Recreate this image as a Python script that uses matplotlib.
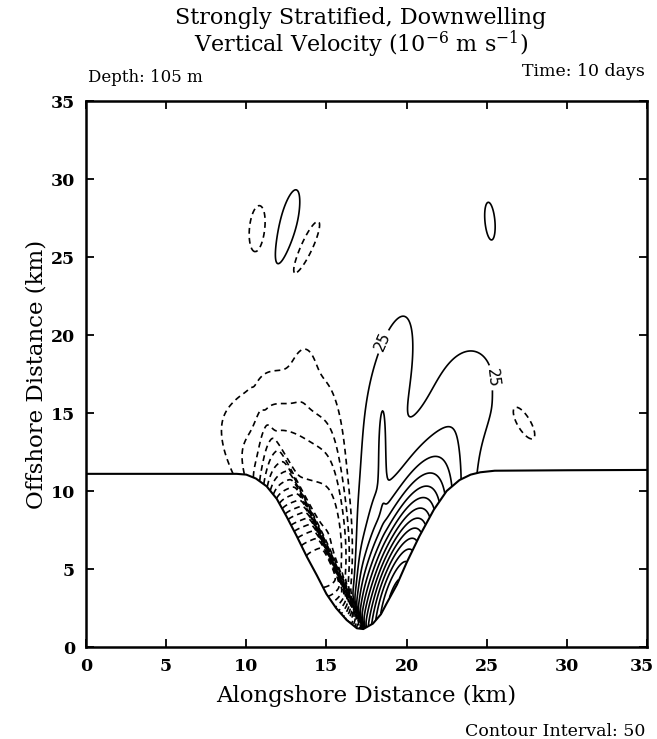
import numpy as np
import matplotlib
matplotlib.use("Agg")
import matplotlib.pyplot as plt
from matplotlib.transforms import ScaledTranslation

# ---------------- data ----------------
# canyon wall where the bottom is at 105 m depth (km)
wall_x = [0.0, 5.0, 9.4, 10.0, 10.6, 11.27, 11.9, 12.52, 13.15, 13.77, 14.4, 15.0,
          15.6, 16.26, 16.9, 17.3, 17.9, 18.4, 18.76, 19.4, 20.0, 20.8, 21.7,
          22.5, 23.3, 24.0, 24.6, 25.5, 30.0, 35.0]
wall_y = [11.1, 11.1, 11.1, 11.05, 10.8, 10.3, 9.5, 8.35, 7.1, 5.8, 4.6, 3.4,
          2.5, 1.73, 1.2, 1.15, 1.5, 2.1, 2.8, 4.0, 5.4, 7.1, 8.8,
          10.0, 10.7, 11.05, 11.2, 11.3, 11.33, 11.35]

# vertical-velocity field (10^-6 m/s) described as a set of generalised-gaussian features
#             N_mid  N_top  N_bump P_main P_tongue P_lobe P_spike P_axis  small cells ...
comp_x     = [14.0,  11.8,  13.6,  19.3,  18.95,  23.8,  18.5,   18.0,   10.7, 12.55, 13.65, 25.2, 27.25]
comp_y     = [6.5,   13.5,  17.6,  3.0,   16.9,   16.3,  12.0,   10.0,   26.8, 26.85, 25.5, 27.3, 14.45]
comp_amp   = [-230,  -60,   -30,   650,   48,     40,    50,     40,     -40, 40, -40, 40, -40]
comp_len   = [4.8,   2.3,   1.3,   5.2,   3.8,    2.4,   2.0,    4.0,    1.55, 2.6, 2.05, 1.25, 1.32]
comp_wid   = [2.2,   2.2,   0.5,   1.4,   0.95,   1.45,  0.15,   0.7,    0.52, 0.58, 0.43, 0.32, 0.45]
comp_angle = [95,    100,   88,    74,    78,     80,    90,     85,     85, 77, 64.7, 95, -59.4]
comp_plen  = [2,     2,     2,     2,     2,      2,     2,      2,      2, 2, 2, 2, 2]
comp_pwid  = [6,     2,     2,     2,     2,      2,     2,      2,      2, 2, 2, 2, 2]

# sharp front of strong downwelling along the western canyon wall
front_x     = [15.5]
front_y     = [5.0]
front_amp   = [-700]
front_len   = [4.0]
front_width = [0.13]
front_angle = [-65.8]
front_shift = [0.1]    # offset of the front line from the reference point (km)
front_back  = [2.6]    # extent of the strong band behind the front (km)

contour_interval = 50
label_points = [(18.9, 19.4), (24.6, 17.2)]

x_ticks = [0, 5, 10, 15, 20, 25, 30, 35]
y_ticks = [0, 5, 10, 15, 20, 25, 30, 35]

# ---------------- build field ----------------
gx = np.linspace(0, 35, 701)
gy = np.linspace(0, 35, 701)
X, Y = np.meshgrid(gx, gy)
W = np.zeros_like(X)
for cx, cy, amp, a, b, ang, pu, pv in zip(comp_x, comp_y, comp_amp, comp_len,
                                          comp_wid, comp_angle, comp_plen, comp_pwid):
    t = np.deg2rad(ang)
    u = (X - cx) * np.cos(t) + (Y - cy) * np.sin(t)
    v = -(X - cx) * np.sin(t) + (Y - cy) * np.cos(t)
    W += amp * np.exp(-0.5 * (np.abs(u / a) ** pu + np.abs(v / b) ** pv))
for cx, cy, amp, a, w, ang, sh, bk in zip(front_x, front_y, front_amp, front_len,
                                          front_width, front_angle, front_shift, front_back):
    t = np.deg2rad(ang)
    u = (X - cx) * np.cos(t) + (Y - cy) * np.sin(t)
    v = -(X - cx) * np.sin(t) + (Y - cy) * np.cos(t) - sh
    across = 0.5 * (1 - np.tanh(v / w)) * np.exp(-0.5 * (np.abs(np.minimum(v, 0)) / bk) ** 6)
    W += amp * np.exp(-0.5 * (u / a) ** 2) * across
wall_on_grid = np.interp(gx, wall_x, wall_y)
W = np.ma.masked_where(Y < wall_on_grid[None, :], W)

pos_levels = np.arange(contour_interval / 2, 1500, contour_interval)
neg_levels = -pos_levels[::-1]

# ---------------- figure ----------------
plt.rcParams['font.family'] = 'DejaVu Serif'
fig = plt.figure(figsize=(6.57, 7.39), dpi=100)
ax = fig.add_axes([86 / 657, 1 - 647 / 739, (647 - 86) / 657, (647 - 101) / 739])

cs_neg = ax.contour(X, Y, W, levels=neg_levels, colors='black', linewidths=1.2,
                    linestyles=[(0, (3.5, 2.5))])
cs_pos = ax.contour(X, Y, W, levels=pos_levels, colors='black', linewidths=1.2,
                    linestyles='solid')
ax.clabel(cs_pos, levels=[pos_levels[0]], manual=label_points, fmt='%d',
          fontsize=11, inline=True, inline_spacing=3)
for txt in cs_pos.labelTexts:
    txt.set_family('DejaVu Sans')

ax.plot(wall_x, wall_y, color='black', lw=1.5)

ax.set_xlim(0, 35)
ax.set_ylim(0, 35)
ax.set_xticks(x_ticks)
ax.set_yticks(y_ticks)
ax.tick_params(direction='in', length=6, width=1.3, top=True, right=True,
               labelsize=12.5, pad=8)
for lab in ax.get_xticklabels() + ax.get_yticklabels():
    lab.set_fontweight('bold')
last = ax.get_xticklabels()[-1]
last.set_transform(last.get_transform() + ScaledTranslation(-5 / 100, 0, fig.dpi_scale_trans))
for sp in ax.spines.values():
    sp.set_linewidth(1.8)

ax.set_xlabel('Alongshore Distance (km)', fontsize=16.5, labelpad=7)
ax.set_ylabel('Offshore Distance (km)', fontsize=16.5, labelpad=2)

fig.text(361 / 657, 1 - 18 / 739, 'Strongly Stratified, Downwelling',
         ha='center', va='center', fontsize=16)
fig.text(361 / 657, 1 - 44 / 739, r'Vertical Velocity (10$^{\mathregular{-6}}$ m s$^{\mathregular{-1}}$)',
         ha='center', va='center', fontsize=16)
fig.text(88 / 657, 1 - 78 / 739, 'Depth: 105 m', ha='left', va='center', fontsize=12)
fig.text(645 / 657, 1 - 72 / 739, 'Time: 10 days', ha='right', va='center', fontsize=12.5)
fig.text(645 / 657, 1 - 731 / 739, 'Contour Interval: 50', ha='right', va='center',
         fontsize=12.5)

fig.savefig('out.png', dpi=100)
